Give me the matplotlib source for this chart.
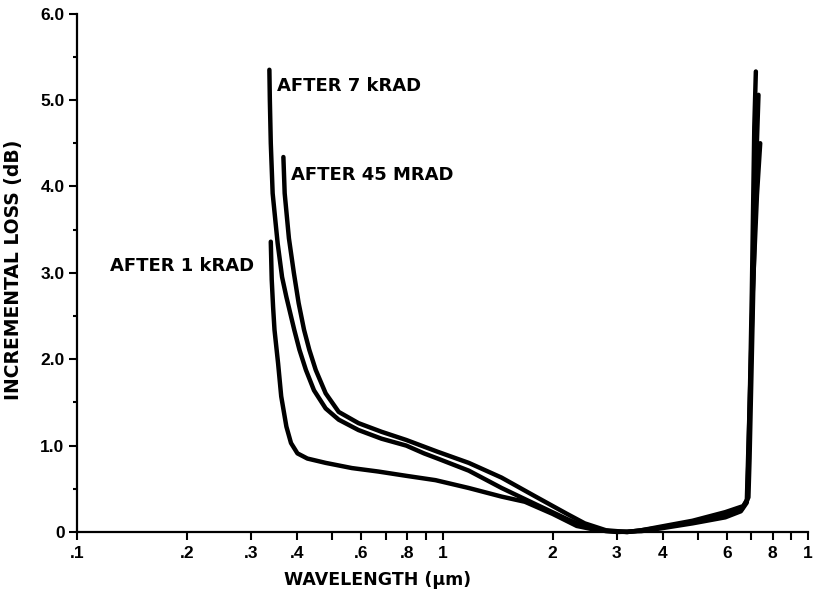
import numpy as np
import matplotlib
matplotlib.use("Agg")
import matplotlib.pyplot as plt
from matplotlib.ticker import FixedLocator, NullLocator

plt.rcParams['font.family'] = ['Liberation Sans', 'DejaVu Sans']
plt.rcParams['font.weight'] = 'bold'

# incremental loss curves, wavelength in um, loss in dB
wl_1k = [0.339, 0.341, 0.344, 0.347, 0.355, 0.362, 0.374, 0.385, 0.401, 0.427, 0.479,
         0.565, 0.667, 0.796, 0.957, 1.178, 1.45, 1.68, 2.0, 2.33, 2.59, 3.0, 3.5,
         3.93, 4.83, 5.94, 6.55, 6.80, 6.85, 6.96, 7.06, 7.25, 7.40]
loss_1k = [3.36, 2.92, 2.60, 2.34, 1.95, 1.57, 1.22, 1.03, 0.91, 0.85, 0.80,
           0.74, 0.70, 0.65, 0.60, 0.51, 0.41, 0.35, 0.21, 0.07, 0.03, 0.0, 0.01,
           0.04, 0.10, 0.17, 0.24, 0.34, 0.80, 1.80, 2.77, 3.90, 4.50]

wl_7k = [0.336, 0.337, 0.339, 0.343, 0.349, 0.354, 0.364, 0.374, 0.393, 0.406, 0.423,
         0.445, 0.479, 0.520, 0.589, 0.681, 0.796, 0.89, 0.97, 1.18, 1.45, 1.78, 2.19,
         2.45, 2.8, 3.2, 3.5, 3.93, 4.83, 5.94, 6.60, 6.82, 6.87, 6.95, 7.02, 7.13, 7.20]
loss_7k = [5.35, 5.00, 4.50, 3.92, 3.60, 3.34, 2.95, 2.72, 2.34, 2.11, 1.875,
           1.64, 1.43, 1.30, 1.18, 1.08, 1.00, 0.91, 0.85, 0.71, 0.51, 0.33, 0.15,
           0.06, 0.01, 0.0, 0.02, 0.05, 0.12, 0.20, 0.27, 0.37, 0.83, 1.80, 2.77, 4.69, 5.33]

wl_45m = [0.367, 0.370, 0.380, 0.392, 0.404, 0.418, 0.432, 0.450, 0.479, 0.520, 0.589,
          0.681, 0.796, 0.968, 1.18, 1.45, 1.78, 2.19, 2.45, 2.8, 3.2, 3.5, 3.93, 4.83,
          5.94, 6.65, 6.87, 6.92, 7.00, 7.08, 7.22, 7.32]
loss_45m = [4.34, 3.92, 3.40, 3.00, 2.65, 2.34, 2.11, 1.875, 1.605, 1.39, 1.26,
            1.16, 1.065, 0.93, 0.80, 0.63, 0.42, 0.21, 0.10, 0.02, 0.0, 0.02, 0.06, 0.13,
            0.23, 0.30, 0.40, 0.85, 1.80, 2.77, 4.30, 5.06]

x_ticks = [0.1, 0.2, 0.3, 0.4, 0.5, 0.6, 0.7, 0.8, 0.9, 1, 2, 3, 4, 5, 6, 7, 8, 9, 10]
x_labels = ['.1', '.2', '.3', '.4', '', '.6', '', '.8', '', '1', '2', '3', '4', '', '6', '', '8', '', '1']
y_ticks = [0, 1, 2, 3, 4, 5, 6]
y_labels = ['0', '1.0', '2.0', '3.0', '4.0', '5.0', '6.0']

fig = plt.figure(figsize=(8.13, 5.95), dpi=100)
ax = fig.add_axes([77 / 813, 63 / 595, 731 / 813, 518.4 / 595])

for wl, loss in [(wl_1k, loss_1k), (wl_7k, loss_7k), (wl_45m, loss_45m)]:
    ax.plot(wl, loss, color='black', lw=3.2, solid_capstyle='round',
            solid_joinstyle='round', clip_on=False)

ax.set_xscale('log')
ax.set_xlim(0.1, 10)
ax.set_ylim(0, 6)

ax.spines['top'].set_visible(False)
ax.spines['right'].set_visible(False)
ax.spines['left'].set_linewidth(1.6)
ax.spines['bottom'].set_linewidth(1.6)

ax.xaxis.set_major_locator(FixedLocator(x_ticks))
ax.xaxis.set_minor_locator(NullLocator())
ax.set_xticklabels(x_labels)
ax.yaxis.set_major_locator(FixedLocator(y_ticks))
ax.yaxis.set_minor_locator(FixedLocator(np.arange(0.5, 6, 1.0)))
ax.set_yticklabels(y_labels)

ax.tick_params(axis='x', which='major', direction='out', length=6, width=1.5,
               pad=4, labelsize=12.5)
ax.tick_params(axis='y', which='major', direction='out', length=6, width=1.5,
               pad=3, labelsize=12.5)
ax.tick_params(axis='y', which='minor', direction='out', length=3, width=1.5)

ax.set_xlabel('WAVELENGTH (μm)', fontsize=12.5, fontweight='bold',
              family=['DejaVu Sans'])
ax.xaxis.set_label_coords(0.411, -0.076)
ax.set_ylabel('INCREMENTAL LOSS (dB)', fontsize=13.5, fontweight='bold',
              family=['DejaVu Sans'])
ax.yaxis.set_label_coords(-0.074, 0.505)

lab = dict(fontsize=13, fontweight='bold', family=['DejaVu Sans'], va='center', ha='left')
ax.text(0.352, 5.16, 'AFTER 7 kRAD', **lab)
ax.text(0.384, 4.13, 'AFTER 45 MRAD', **lab)
ax.text(0.123, 3.08, 'AFTER 1 kRAD', **lab)

fig.savefig('out.png', dpi=100)
